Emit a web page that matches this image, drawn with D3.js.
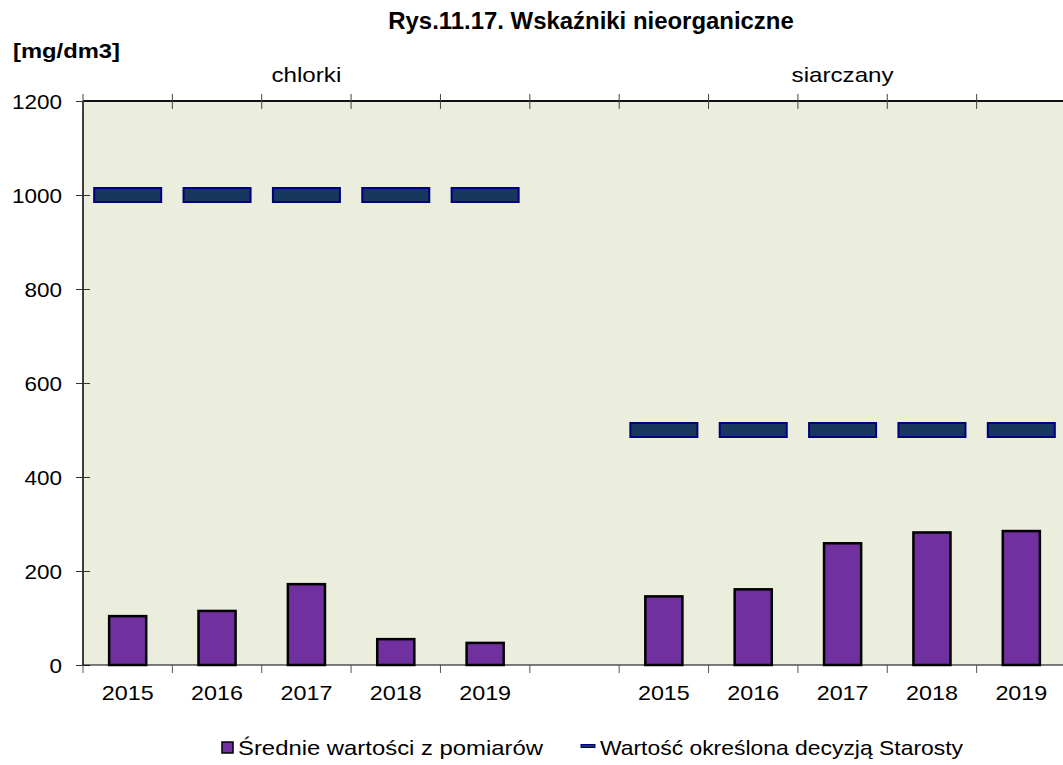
<!DOCTYPE html>
<html lang="pl">
<head>
<meta charset="utf-8">
<title>Rys.11.17. Wskaźniki nieorganiczne</title>
<script src="https://d3js.org/d3.v7.min.js"></script>
<style>
  body { margin: 0; background: #fff; font-family: Arial, "Liberation Sans", sans-serif; }
  svg text { fill: #000; font-family: Arial, "Liberation Sans", sans-serif; }
  .axis path { stroke: #000; }
  .axis text { font-size: 21px; }
</style>
</head>
<body>
<div id="chart"></div>
<script>
// data
var years = ["2015", "2016", "2017", "2018", "2019"];
var groups = ["chlorki", "siarczany"];
var chlorkiMean = [104, 115, 172, 55, 47];
var siarczanyMean = [146, 161, 259, 282, 285];
var chlorkiLimit = [1000, 1000, 1000, 1000, 1000];
var siarczanyLimit = [500, 500, 500, 500, 500];
var yTicks = [0, 200, 400, 600, 800, 1000, 1200];

var W = 1063, H = 765;
var margin = { top: 101, left: 83 };
var plotW = 983, plotH = 564;

// 11 slots: 5 years, one empty, 5 years
var slots = [];
years.forEach(function(y, i) { slots.push({ key: "c" + y, label: y, mean: chlorkiMean[i], limit: chlorkiLimit[i] }); });
slots.push({ key: "gap", label: "", mean: null, limit: null });
years.forEach(function(y, i) { slots.push({ key: "s" + y, label: y, mean: siarczanyMean[i], limit: siarczanyLimit[i] }); });

// the source picture has its lettering slightly widened
function stretch(sel, sx) {
  sel.each(function() {
    var len = this.getComputedTextLength();
    if (len > 0) d3.select(this).attr("textLength", len * sx).attr("lengthAdjust", "spacingAndGlyphs");
  });
}

var svg = d3.select("#chart").append("svg")
    .attr("width", W).attr("height", H);

var g = svg.append("g").attr("transform", "translate(" + margin.left + "," + margin.top + ")");

var x = d3.scaleBand().domain(slots.map(function(d) { return d.key; })).range([0, plotW]);
var y = d3.scaleLinear().domain([0, 1200]).range([plotH, 0]);

// plot area
g.append("rect").attr("width", plotW).attr("height", plotH).attr("fill", "#ebeedd");

// bars
var barW = x.bandwidth() * 0.415;
g.selectAll(".bar").data(slots.filter(function(d) { return d.mean != null; }))
  .enter().append("rect")
    .attr("class", "bar")
    .attr("x", function(d) { return x(d.key) + (x.bandwidth() - barW) / 2; })
    .attr("y", function(d) { return y(d.mean); })
    .attr("width", barW)
    .attr("height", function(d) { return y(0) - y(d.mean); })
    .attr("fill", "#7030a0")
    .attr("stroke", "#000")
    .attr("stroke-width", 2.5);

// limit dashes
var dashW = x.bandwidth() * 0.75, dashH = 14;
g.selectAll(".limit").data(slots.filter(function(d) { return d.limit != null; }))
  .enter().append("rect")
    .attr("class", "limit")
    .attr("x", function(d) { return x(d.key) + (x.bandwidth() - dashW) / 2; })
    .attr("y", function(d) { return y(d.limit) - dashH / 2; })
    .attr("width", dashW)
    .attr("height", dashH)
    .attr("fill", "#17375e")
    .attr("stroke", "#000080")
    .attr("stroke-width", 2);

// y axis
var yAxis = g.append("g").attr("class", "axis")
    .call(d3.axisLeft(y).tickValues(yTicks).tickFormat(d3.format("d")).tickSize(7).tickPadding(14));
yAxis.selectAll(".tick line").attr("x1", -7).attr("x2", 7).attr("stroke", "#333");
yAxis.selectAll(".tick text").attr("dy", "0.36em");
yAxis.select(".domain").attr("d", "M0,0V" + plotH).attr("stroke-width", 1.5);
stretch(yAxis.selectAll(".tick text"), 1.07);

// bottom axis (year labels)
var xAxis = g.append("g").attr("class", "axis")
    .attr("transform", "translate(0," + plotH + ")")
    .call(d3.axisBottom(x).tickSize(0).tickPadding(0)
      .tickFormat(function(k) { return slots.find(function(s) { return s.key === k; }).label; }));
xAxis.select(".domain").attr("d", "M0,0H" + plotW).attr("stroke", "#222");
xAxis.selectAll(".tick text").attr("dy", null).attr("y", 35);
stretch(xAxis.selectAll(".tick text"), 1.11);

var bounds = d3.range(0, slots.length + 1).map(function(i) { return i * x.step(); });
g.selectAll(".btick").data(bounds).enter().append("line")
    .attr("x1", function(d) { return d; }).attr("x2", function(d) { return d; })
    .attr("y1", plotH).attr("y2", plotH + 8)
    .attr("stroke", "#555");

// top axis (group labels)
g.append("line").attr("x1", 0).attr("x2", plotW).attr("y1", 0).attr("y2", 0)
    .attr("stroke", "#111").attr("stroke-width", 2);
g.selectAll(".ttick").data(bounds).enter().append("line")
    .attr("x1", function(d) { return d; }).attr("x2", function(d) { return d; })
    .attr("y1", -7).attr("y2", 8)
    .attr("stroke", "#444");

var groupCenters = [x("c2017") + x.bandwidth() / 2, x("s2017") + x.bandwidth() / 2];
var glabels = g.selectAll(".glabel").data(groups).enter().append("text")
    .attr("x", function(d, i) { return groupCenters[i]; })
    .attr("y", -19)
    .attr("text-anchor", "middle")
    .style("font-size", "21px")
    .text(function(d) { return d; });
stretch(glabels, 1.15);

// titles
var title = svg.append("text").attr("x", 591).attr("y", 29).attr("text-anchor", "middle")
    .style("font-size", "23px").style("font-weight", "bold")
    .text("Rys.11.17. Wskaźniki nieorganiczne");
stretch(title, 1.04);
svg.append("text").attr("x", 13).attr("y", 58)
    .style("font-size", "21px").style("font-weight", "bold")
    .attr("textLength", 107).attr("lengthAdjust", "spacingAndGlyphs")
    .text("[mg/dm3]");

// legend
var leg = svg.append("g").attr("transform", "translate(0,755)");
leg.append("rect").attr("x", 222).attr("y", -13).attr("width", 11).attr("height", 11)
    .attr("fill", "#7030a0").attr("stroke", "#000").attr("stroke-width", 1.5);
leg.append("text").attr("x", 238).attr("y", 0).style("font-size", "21px")
    .attr("textLength", 305).attr("lengthAdjust", "spacingAndGlyphs")
    .text("Średnie wartości z pomiarów");
leg.append("rect").attr("x", 581).attr("y", -10.5).attr("width", 14).attr("height", 3)
    .attr("fill", "#17375e").attr("stroke", "#000080").attr("stroke-width", 1);
leg.append("text").attr("x", 600).attr("y", 0).style("font-size", "21px")
    .attr("textLength", 363).attr("lengthAdjust", "spacingAndGlyphs")
    .text("Wartość określona decyzją Starosty");
</script>
</body>
</html>
